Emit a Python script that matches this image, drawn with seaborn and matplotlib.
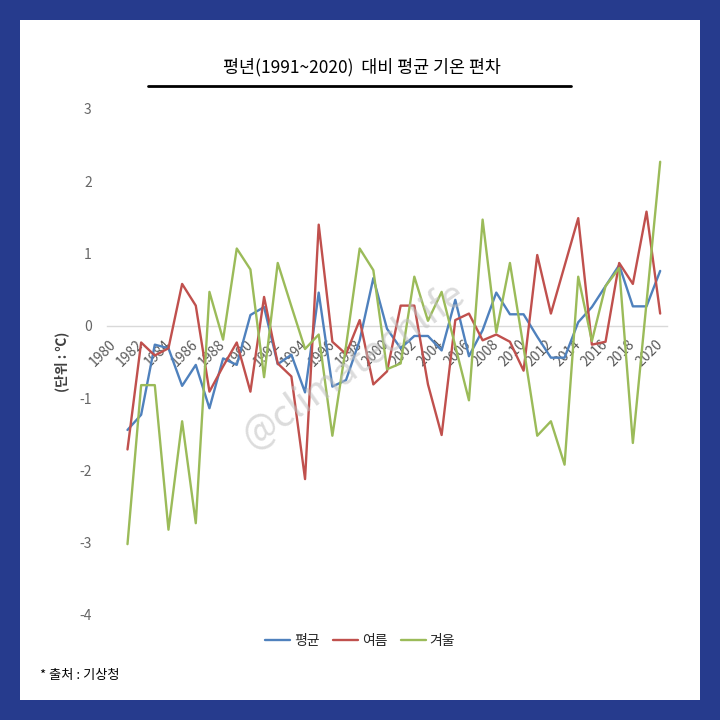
import pandas as pd
import seaborn as sns
import matplotlib.pyplot as plt
from matplotlib.lines import Line2D
from matplotlib.patches import Rectangle


# --------------------------------------------------
# Data (deviation from 1991~2020 normal)
# --------------------------------------------------

years = list(range(1981, 2021))

annual = [
    -1.44, -1.23, -0.26, -0.31, -0.83, -0.54, -1.14, -0.45, -0.54, 0.15,
    0.26, -0.53, -0.40, -0.92, 0.46, -0.84, -0.75, -0.20, 0.66, -0.04,
    -0.31, -0.14, -0.14, -0.34, 0.36, -0.42, -0.06, 0.46, 0.16, 0.16,
    -0.15, -0.44, -0.44, 0.05, 0.26, 0.55, 0.84, 0.27, 0.27, 0.76,
]

summer = [
    -1.71, -0.23, -0.41, -0.31, 0.58, 0.28, -0.91, -0.56, -0.23, -0.91,
    0.40, -0.52, -0.70, -2.12, 1.40, -0.22, -0.39, 0.08, -0.81, -0.63,
    0.28, 0.28, -0.81, -1.51, 0.08, 0.17, -0.20, -0.12, -0.22, -0.62,
    0.98, 0.17, 0.83, 1.49, -0.26, -0.22, 0.87, 0.58, 1.58, 0.17,
]

winter = [
    -3.02, -0.82, -0.82, -2.82, -1.32, -2.73, 0.47, -0.19, 1.07, 0.78,
    -0.71, 0.87, 0.27, -0.32, -0.12, -1.52, -0.28, 1.07, 0.77, -0.60,
    -0.52, 0.68, 0.07, 0.47, -0.28, -1.03, 1.47, -0.09, 0.87, -0.30,
    -1.52, -1.32, -1.92, 0.68, -0.21, 0.55, 0.80, -1.62, 0.32, 2.27,
]

series_names = ["평균", "여름", "겨울"]
series_colors = ["#4F81BD", "#C0504D", "#9BBB59"]

x_ticks = list(range(1980, 2021, 2))
y_ticks = [-4, -3, -2, -1, 0, 1, 2, 3]

df = pd.DataFrame({
    "year": years * 3,
    "value": annual + summer + winter,
    "series": [series_names[0]] * len(years)
    + [series_names[1]] * len(years)
    + [series_names[2]] * len(years),
})


# --------------------------------------------------
# Style
# --------------------------------------------------

sns.set_style("white")
plt.rcParams["font.family"] = ["Noto Sans CJK KR", "DejaVu Sans"]
plt.rcParams["axes.unicode_minus"] = False

fig = plt.figure(figsize=(7.2, 7.2), dpi=100)
fig.patch.set_facecolor("#263B8D")
fig.patches.append(Rectangle(
    (20 / 720, 20 / 720), 680 / 720, 680 / 720,
    transform=fig.transFigure, facecolor="white", edgecolor="none", zorder=-1
))

ax = fig.add_axes([107 / 720, 1 - 615 / 720, 560 / 720, 506 / 720])
ax.set_facecolor("none")


# --------------------------------------------------
# Lines
# --------------------------------------------------

sns.lineplot(
    data=df,
    x="year",
    y="value",
    hue="series",
    hue_order=series_names,
    palette=series_colors,
    linewidth=1.7,
    ax=ax,
)

ax.set_xlim(1979.5, 2020.5)
ax.set_ylim(-4, 3)

ax.set_xticks(x_ticks)
ax.set_xticklabels([str(y) for y in x_ticks])
ax.set_yticks(y_ticks)
ax.set_yticklabels([str(v) for v in y_ticks])

for side in ["top", "right", "left"]:
    ax.spines[side].set_visible(False)
ax.spines["bottom"].set_position(("data", 0))
ax.spines["bottom"].set_color("#D9D9D9")
ax.spines["bottom"].set_linewidth(1)
ax.spines["bottom"].set_zorder(0)

ax.tick_params(axis="x", length=0, pad=12, labelsize=10, labelcolor="#595959")
ax.tick_params(axis="y", length=0, pad=11, labelsize=10, labelcolor="#666666")
for lab in ax.get_xticklabels():
    lab.set_rotation(45)
    lab.set_ha("right")
    lab.set_va("center")
    lab.set_rotation_mode("anchor")

ax.set_xlabel("")
ax.set_ylabel("(단위 : ℃)", fontsize=10, fontweight="bold", color="#404040")
ax.yaxis.set_label_coords(-0.068, 0.5)

sns.move_legend(
    ax,
    "center",
    bbox_to_anchor=(0.5, 1 - 641 / 720),
    bbox_transform=fig.transFigure,
    ncol=3,
    frameon=False,
    title=None,
    fontsize=10,
    handlelength=1.8,
    handletextpad=0.3,
    columnspacing=0.95,
)


# --------------------------------------------------
# Title, source, watermark
# --------------------------------------------------

fig.text(0.502, 1 - 67 / 720, "평년(1991~2020)  대비 평균 기온 편차",
         ha="center", va="center", fontsize=12.5, color="black")
fig.add_artist(Line2D([148 / 720, 571 / 720], [1 - 86 / 720, 1 - 86 / 720],
                      transform=fig.transFigure, color="black", linewidth=2))

fig.text(40 / 720, 1 - 676 / 720, "* 출처 : 기상청",
         ha="left", va="center", fontsize=9.5, color="black")

fig.text(355 / 720, 1 - 365 / 720, "@climatechlife", rotation=35,
         ha="center", va="center", fontsize=27, color="#BFBFBF", alpha=0.55,
         zorder=5)

fig.savefig("out.png", dpi=100)
